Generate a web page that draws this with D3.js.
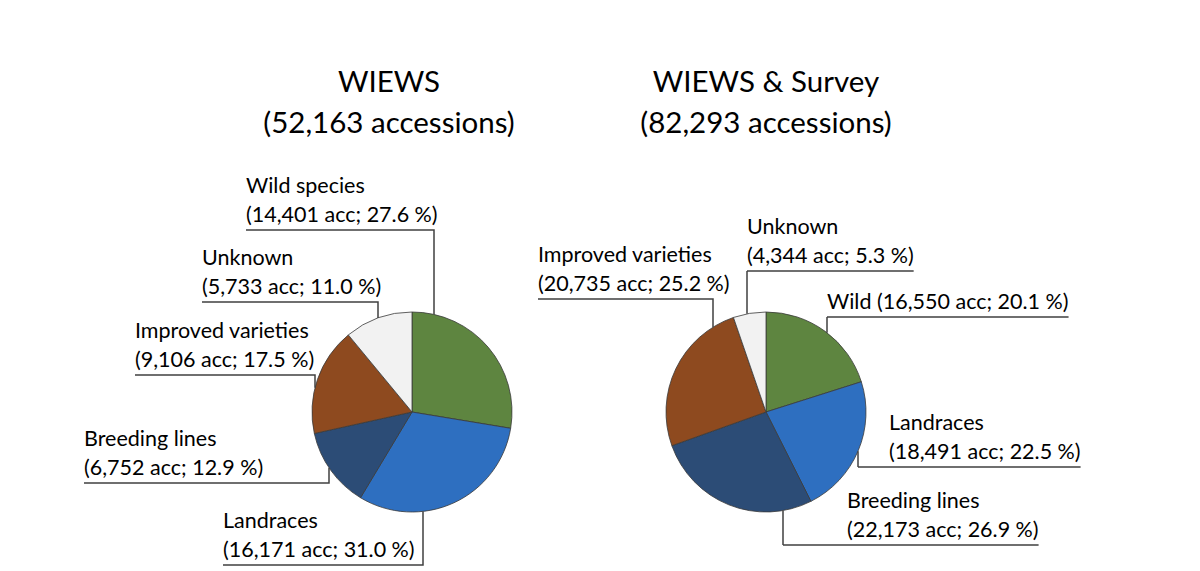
<!DOCTYPE html>
<html>
<head>
<meta charset="utf-8">
<script src="https://cdn.jsdelivr.net/npm/d3@7"></script>
<style>
  body { margin: 0; background: #fff; }
  text { font-family: Lato, "Open Sans", sans-serif; fill: #000; }
</style>
</head>
<body>
<svg id="chart" width="1200" height="571"></svg>
<script>
// data
const categories = ["Wild", "Landraces", "Breeding lines", "Improved varieties", "Unknown"];
const wiewsCounts = [14401, 16171, 6752, 9106, 5733];
const wiewsPct = [27.6, 31.0, 12.9, 17.5, 11.0];
const wiewsNames = ["Wild species", "Landraces", "Breeding lines", "Improved varieties", "Unknown"];
const surveyCounts = [16550, 18491, 22173, 20735, 4344];
const surveyPct = [20.1, 22.5, 26.9, 25.2, 5.3];
const surveyNames = ["Wild", "Landraces", "Breeding lines", "Improved varieties", "Unknown"];
const titles = [["WIEWS", "(52,163 accessions)"], ["WIEWS & Survey", "(82,293 accessions)"]];

const colors = ["#5e8540", "#2e6fc0", "#2c4c76", "#8e4a1f", "#f2f2f2"];

// label placement: text x, underline y, leader x, which end the leader sits on
const wiewsLayout = [
  { tx: 246, ly: 230, vx: 434, side: "left" },
  { tx: 223, ly: 565, vx: 423, side: "left" },
  { tx: 84, ly: 483, vx: 329, side: "left" },
  { tx: 135, ly: 375, vx: 315, side: "left" },
  { tx: 202, ly: 302, vx: 378, side: "left" }
];
const surveyLayout = [
  { tx: 827, ly: 317, vx: 827, side: "right", oneLine: true },
  { tx: 889, ly: 467, vx: 858, side: "right" },
  { tx: 847, ly: 545, vx: 783, side: "right" },
  { tx: 538, ly: 299, vx: 713, side: "left" },
  { tx: 747, ly: 271, vx: 747, side: "right" }
];

const svg = d3.select("#chart");
const fmt = d3.format(",");
const radius = 100;

function drawPie({ cx, cy, titleX, title, counts, pct, names, layout }) {
  const g = svg.append("g");

  g.selectAll("text.title")
    .data(title)
    .join("text")
    .attr("class", "title")
    .attr("x", titleX)
    .attr("y", (d, i) => 92 + i * 41)
    .attr("text-anchor", "middle")
    .style("font-size", "29.5px")
    .text(d => d);

  const pie = d3.pie().sort(null).value(d => d.count);
  const arc = d3.arc().innerRadius(0).outerRadius(radius);
  const rows = counts.map((c, i) => ({ count: c, pct: pct[i], name: names[i], color: colors[i], lay: layout[i] }));

  g.append("g")
    .attr("transform", `translate(${cx},${cy})`)
    .selectAll("path")
    .data(pie(rows))
    .join("path")
    .attr("d", arc)
    .attr("fill", d => d.data.color)
    .attr("stroke", "#3a3a3a")
    .attr("stroke-width", 0.8);

  rows.forEach(r => {
    const L = r.lay;
    const numText = `(${fmt(r.count)} acc; ${r.pct.toFixed(1)} %)`;
    const lines = L.oneLine ? [`${r.name} ${numText}`] : [r.name, numText];
    const t = g.append("g");
    const texts = t.selectAll("text")
      .data(lines)
      .join("text")
      .attr("x", L.tx)
      .attr("y", (d, i) => L.ly - 8 - (lines.length - 1 - i) * 29)
      .style("font-size", "21.5px")
      .text(d => d);

    const textRight = L.tx + d3.max(texts.nodes(), n => n.getComputedTextLength());
    const x1 = L.side === "left" ? L.tx : L.vx;
    const x2 = L.side === "left" ? L.vx : textRight;
    // leader meets the pie edge straight above or below the underline
    const dx = L.vx - cx;
    const edge = Math.sqrt(Math.max(0, radius * radius - dx * dx));
    const ey = L.ly < cy ? cy - edge : cy + edge;

    t.append("path")
      .attr("d", `M${x1},${L.ly}H${x2}` + (L.side === "left" ? `V${ey}` : `M${L.vx},${L.ly}V${ey}`))
      .attr("fill", "none")
      .attr("stroke", "#404040")
      .attr("stroke-width", 1.5);
  });
}

drawPie({ cx: 412, cy: 412, titleX: 389, title: titles[0], counts: wiewsCounts, pct: wiewsPct, names: wiewsNames, layout: wiewsLayout });
drawPie({ cx: 766, cy: 412, titleX: 766, title: titles[1], counts: surveyCounts, pct: surveyPct, names: surveyNames, layout: surveyLayout });
</script>
</body>
</html>
